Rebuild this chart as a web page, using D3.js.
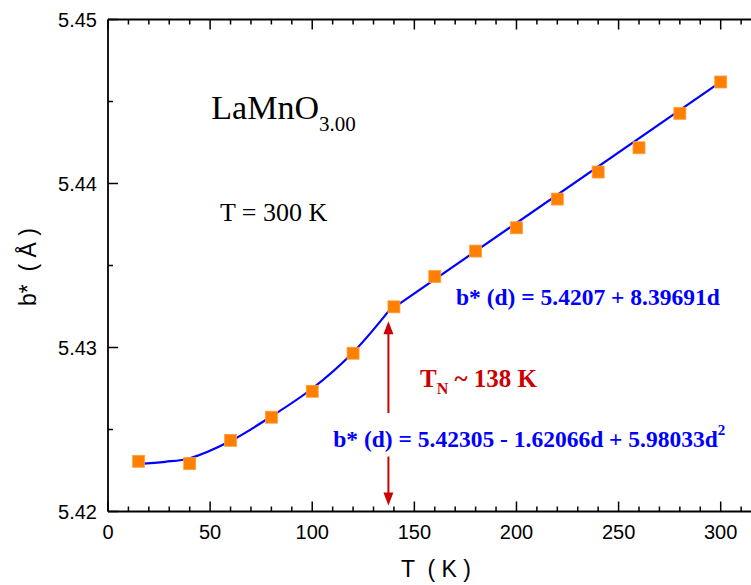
<!DOCTYPE html>
<html>
<head>
<meta charset="utf-8">
<script src="https://cdn.jsdelivr.net/npm/d3@7"></script>
<style>
  body { margin: 0; background: white; }
  text { white-space: pre; }
</style>
</head>
<body>
<div id="container"></div>
<script>
let w = 751;
let h = 585;

// DATA
let temps = [15, 40, 60, 80, 100, 120, 140, 160, 180, 200, 220, 240, 260, 280, 300];
let bValues = [5.42306, 5.42292, 5.42434, 5.42575, 5.42733, 5.42965, 5.43248, 5.43433,
               5.43588, 5.43730, 5.43905, 5.44070, 5.44218, 5.44428, 5.44619];

// fitted curve below T_N and straight fit above it
let fitLowT = [15, 28, 40, 60, 80, 100, 120, 137.3];
let fitLowB = [5.42290, 5.42303, 5.42325, 5.42430, 5.42580, 5.42750, 5.42970, 5.43220];
let fitHighT = [137.3, 300];
let fitHighB = [5.4322, 5.4462];

let tN = 137.3;
let yTicks = [5.42, 5.43, 5.44, 5.45];
let xTicks = [0, 50, 100, 150, 200, 250, 300];

let serif = "'Liberation Serif', 'Times New Roman', serif";
let sans = "'Liberation Sans', Arial, sans-serif";
let blue = "#0000ff";
let red = "#cc0000";

let viz = d3.select("#container").append("svg")
    .attr("width", w)
    .attr("height", h);

let xScale = d3.scaleLinear().domain([0, 300]).range([108, 720.7]);
let yScale = d3.scaleLinear().domain([5.42, 5.45]).range([511.5, 19.5]);
let xEnd = xScale(320);

// FRAME
let frame = viz.append("g").attr("stroke", "black").attr("stroke-width", 1.8).attr("fill", "none");
frame.append("line").attr("x1", xScale(0)).attr("x2", xEnd).attr("y1", yScale(5.42)).attr("y2", yScale(5.42));
frame.append("line").attr("x1", xScale(0)).attr("x2", xEnd).attr("y1", yScale(5.45)).attr("y2", yScale(5.45));
frame.append("line").attr("x1", xScale(0)).attr("x2", xScale(0)).attr("y1", yScale(5.42)).attr("y2", yScale(5.45));

// ticks (inward)
let xMinor = d3.range(0, 321, 10);
let ticks = viz.append("g").attr("stroke", "black").attr("stroke-width", 1.5);
xMinor.forEach(function(t) {
  let len = (t % 50 == 0) ? 10 : 5;
  ticks.append("line").attr("x1", xScale(t)).attr("x2", xScale(t))
    .attr("y1", yScale(5.42)).attr("y2", yScale(5.42) - len);
  ticks.append("line").attr("x1", xScale(t)).attr("x2", xScale(t))
    .attr("y1", yScale(5.45)).attr("y2", yScale(5.45) + len);
});
let yMinor = d3.range(0, 7).map(function(i) { return 5.42 + i * 0.005; });
yMinor.forEach(function(v, i) {
  let len = (i % 2 == 0) ? 10 : 5;
  ticks.append("line").attr("x1", xScale(0)).attr("x2", xScale(0) + len)
    .attr("y1", yScale(v)).attr("y2", yScale(v));
});

// tick labels
viz.selectAll(".xlab").data(xTicks).enter().append("text")
  .attr("class", "xlab")
  .attr("x", function(d) { return xScale(d); })
  .attr("y", yScale(5.42) + 27)
  .attr("text-anchor", "middle")
  .attr("font-family", sans).attr("font-size", 20)
  .text(function(d) { return d; });

viz.selectAll(".ylab").data(yTicks).enter().append("text")
  .attr("class", "ylab")
  .attr("x", xScale(0) - 11)
  .attr("y", function(d) { return yScale(d) + 7; })
  .attr("text-anchor", "end")
  .attr("font-family", sans).attr("font-size", 20)
  .text(function(d) { return d3.format(".2f")(d); });

// axis titles
viz.append("text")
  .attr("x", 436).attr("y", 577)
  .attr("text-anchor", "middle")
  .attr("font-family", sans).attr("font-size", 23)
  .text("T  ( K )");
viz.append("text")
  .attr("transform", "translate(36,267) rotate(-90)")
  .attr("text-anchor", "middle")
  .attr("font-family", sans).attr("font-size", 23)
  .text("b*  ( Å )");

// FIT LINES
let lineMaker = d3.line()
  .x(function(d) { return xScale(d[0]); })
  .y(function(d) { return yScale(d[1]); });

viz.append("path")
  .attr("d", lineMaker.curve(d3.curveCatmullRom)(d3.zip(fitLowT, fitLowB)))
  .attr("fill", "none").attr("stroke", blue).attr("stroke-width", 2.2);
viz.append("path")
  .attr("d", lineMaker.curve(d3.curveLinear)(d3.zip(fitHighT, fitHighB)))
  .attr("fill", "none").attr("stroke", blue).attr("stroke-width", 2.2);

// POINTS
let size = 12;
viz.selectAll(".pt").data(d3.zip(temps, bValues)).enter().append("rect")
  .attr("class", "pt")
  .attr("x", function(d) { return xScale(d[0]) - size / 2; })
  .attr("y", function(d) { return yScale(d[1]) - size / 2; })
  .attr("width", size).attr("height", size)
  .attr("fill", "#ff8000")
  .attr("stroke", "#ffa040").attr("stroke-width", 0.8);

// T_N ARROWS
let ax = xScale(tN);
let arrows = viz.append("g").attr("stroke", red).attr("stroke-width", 2);
arrows.append("line").attr("x1", ax).attr("x2", ax)
  .attr("y1", yScale(5.4316) + 10).attr("y2", yScale(5.4260));
arrows.append("line").attr("x1", ax).attr("x2", ax)
  .attr("y1", yScale(5.42335)).attr("y2", yScale(5.42036) - 10);
viz.append("path")
  .attr("d", "M" + ax + "," + yScale(5.4316) + " l-5,13 l10,0 z")
  .attr("fill", red);
viz.append("path")
  .attr("d", "M" + ax + "," + yScale(5.42036) + " l-5,-13 l10,0 z")
  .attr("fill", red);

// ANNOTATIONS
let title = viz.append("text")
  .attr("x", xScale(50.6)).attr("y", yScale(5.44393))
  .attr("font-family", serif).attr("font-size", 34);
title.append("tspan").text("LaMnO");
title.append("tspan").attr("font-size", 21).attr("dy", 12).text("3.00");

viz.append("text")
  .attr("x", xScale(54.8)).attr("y", yScale(5.43771))
  .attr("font-family", serif).attr("font-size", 26)
  .text("T = 300 K");

let tnText = viz.append("text")
  .attr("x", xScale(152.8)).attr("y", yScale(5.42760))
  .attr("font-family", serif).attr("font-size", 25).attr("font-weight", "bold")
  .attr("fill", red);
tnText.append("tspan").text("T");
tnText.append("tspan").attr("font-size", 16).attr("dy", 7).text("N");
tnText.append("tspan").attr("dy", -7).text(" ~ 138 K");

viz.append("text")
  .attr("x", xScale(170.4)).attr("y", yScale(5.43258))
  .attr("font-family", serif).attr("font-size", 23.5).attr("font-weight", "bold")
  .attr("fill", blue)
  .text("b* (d) = 5.4207 + 8.39691d");

let eq2 = viz.append("text")
  .attr("x", xScale(110.3)).attr("y", yScale(5.42394))
  .attr("font-family", serif).attr("font-size", 23.5).attr("font-weight", "bold")
  .attr("fill", blue);
eq2.append("tspan").text("b* (d) = 5.42305 - 1.62066d + 5.98033d");
eq2.append("tspan").attr("font-size", 15).attr("dy", -12).text("2");
</script>
</body>
</html>
